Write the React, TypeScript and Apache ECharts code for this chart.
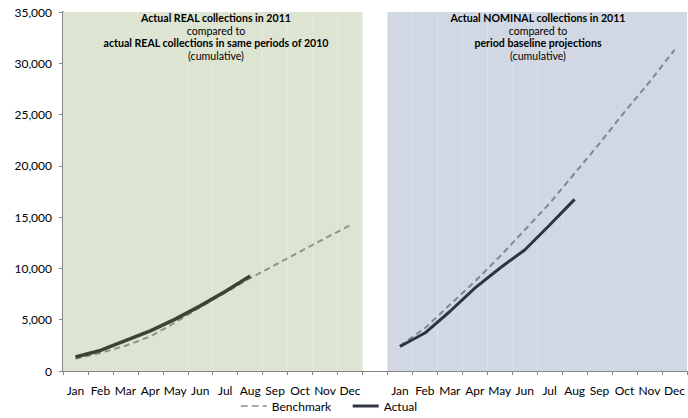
import React, { useEffect, useRef } from "react";
import * as echarts from "echarts";

const months = ["Jan", "Feb", "Mar", "Apr", "May", "Jun", "Jul", "Aug", "Sep", "Oct", "Nov", "Dec"];
const yTicks = [0, 5000, 10000, 15000, 20000, 25000, 30000, 35000];

// Panel 1: REAL collections (2011 actual vs 2010 same periods)
const realBenchmark = [1200, 1750, 2460, 3370, 4730, 6230, 7650, 9050, 10340, 11640, 12940, 14200];
const realActual = [1360, 2000, 2950, 3920, 5060, 6350, 7750, 9270];

// Panel 2: NOMINAL collections (2011 actual vs baseline projections)
const nominalBenchmark = [2450, 4180, 6450, 8720, 11150, 13750, 16350, 19270, 22190, 25260, 28180, 31300];
const nominalActual = [2390, 3700, 5800, 8080, 10020, 11800, 14230, 16730];

const panel1Title = [
  { text: "Actual REAL collections in 2011", bold: true },
  { text: "compared to", bold: false },
  { text: "actual REAL collections in same periods of 2010", bold: true },
  { text: "(cumulative)", bold: false },
];
const panel2Title = [
  { text: "Actual NOMINAL collections in 2011", bold: true },
  { text: "compared to", bold: false },
  { text: "period baseline projections", bold: true },
  { text: "(cumulative)", bold: false },
];

const FONT = "Lato, 'Open Sans', sans-serif";

export default function App() {
  const ref = useRef<HTMLDivElement>(null);
  useEffect(() => {
    if (!ref.current) return;
    const chart = echarts.init(ref.current, undefined, { renderer: "svg" });
    const n = months.length;
    const categories = [...months.map((m) => "A|" + m), "gap", ...months.map((m) => "B|" + m)];
    const yMax = yTicks[yTicks.length - 1];
    const green = "#dde4d1";
    const blue = "#d1d8e3";

    const bgData = categories.map((_, i) =>
      i < n
        ? { value: yMax, itemStyle: { color: green } }
        : i > n
        ? { value: yMax, itemStyle: { color: blue } }
        : "-"
    );
    const p1 = (arr: number[]) => categories.map((_, i) => (i < n && i < arr.length ? arr[i] : "-"));
    const p2 = (arr: number[]) =>
      categories.map((_, i) => (i > n && i - n - 1 < arr.length ? arr[i - n - 1] : "-"));

    const titleEls = (lines: { text: string; bold: boolean }[], cx: number) =>
      lines.map((l, k) => ({
        type: "text",
        x: cx,
        y: 18 + k * 12.7,
        z: 100,
        style: {
          text: l.text,
          fontFamily: FONT,
          fontSize: 10.6,
          fontWeight: l.bold ? "bold" : "normal",
          fill: "#000",
          align: "center",
          verticalAlign: "middle",
        },
      }));

    chart.setOption({
      animation: false,
      grid: { left: 63, right: 1, top: 12, bottom: 47, containLabel: false },
      xAxis: {
        type: "category",
        data: categories,
        boundaryGap: true,
        axisLine: { show: true, lineStyle: { color: "#868686", width: 1 } },
        axisTick: { show: true, length: 4, interval: 0, lineStyle: { color: "#868686" } },
        axisLabel: {
          interval: 0,
          margin: 13,
          fontFamily: FONT,
          fontSize: 12,
          color: "#000",
          formatter: (v: string) => (v === "gap" ? "" : v.split("|")[1]),
        },
        splitLine: { show: false },
      },
      yAxis: {
        type: "value",
        min: 0,
        max: yMax,
        interval: 5000,
        axisLine: { show: true, lineStyle: { color: "#868686", width: 2 } },
        axisTick: { show: true, length: 4, lineStyle: { color: "#868686" } },
        axisLabel: {
          margin: 11,
          fontFamily: FONT,
          fontSize: 12,
          color: "#000",
          formatter: (v: number) => v.toLocaleString("en-US"),
        },
        splitLine: { show: false },
      },
      legend: {
        left: 240,
        top: 400,
        padding: 0,
        itemWidth: 26,
        itemHeight: 10,
        itemGap: 20,
        textStyle: { fontFamily: FONT, fontSize: 12, color: "#000" },
        data: [
          {
            name: "Benchmark",
            itemStyle: { opacity: 0 },
            lineStyle: { color: "#8c8c8c", type: [7, 4], width: 1.5, opacity: 1 },
          },
          {
            name: "Actual",
            itemStyle: { opacity: 0 },
            lineStyle: { color: "#2f3640", width: 3, type: "solid", opacity: 1 },
          },
        ],
      },
      graphic: [...titleEls(panel1Title, 216), ...titleEls(panel2Title, 538)],
      series: [
        {
          type: "bar",
          name: "bg",
          data: bgData,
          barCategoryGap: "0%",
          silent: true,
          z: 1,
        },
        {
          type: "line",
          name: "Benchmark",
          data: p1(realBenchmark),
          symbol: "none",
          lineStyle: { color: "#8a9882", width: 2, type: [6, 4] },
          itemStyle: { color: "#8c8c8c" },
          z: 5,
        },
        {
          type: "line",
          name: "Actual",
          data: p1(realActual),
          symbol: "none",
          lineStyle: { color: "#3a4530", width: 3.5 },
          itemStyle: { color: "#2f3640" },
          z: 6,
        },
        {
          type: "line",
          name: "Benchmark",
          data: p2(nominalBenchmark),
          symbol: "none",
          lineStyle: { color: "#7e8690", width: 2, type: [6, 4] },
          itemStyle: { color: "#8c8c8c" },
          z: 5,
        },
        {
          type: "line",
          name: "Actual",
          data: p2(nominalActual),
          symbol: "none",
          lineStyle: { color: "#2c3540", width: 3 },
          itemStyle: { color: "#2f3640" },
          z: 6,
        },
      ],
    });
    return () => chart.dispose();
  }, []);
  return (
    <div
      ref={ref}
      style={{ position: "absolute", left: 0, top: 0, width: 688, height: 418, background: "#fff" }}
    />
  );
}
